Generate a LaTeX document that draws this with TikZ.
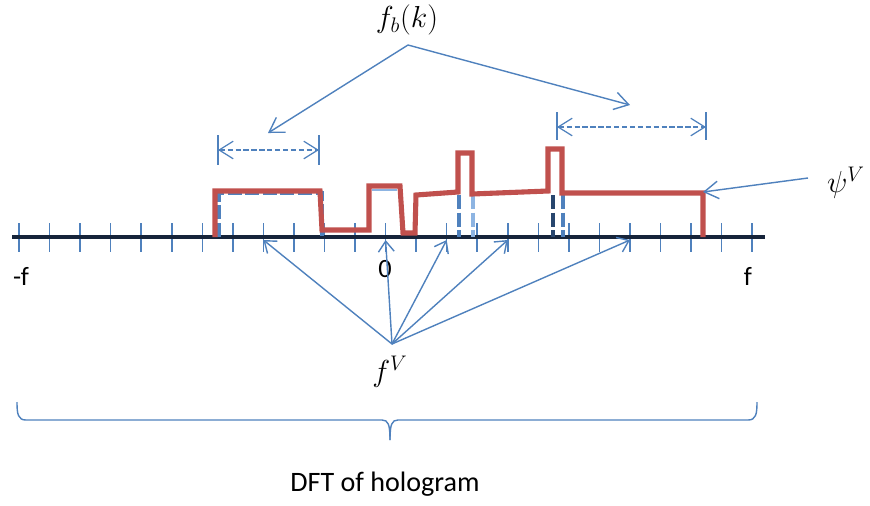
\documentclass[tikz,border=0pt]{standalone}
\usepackage[no-math]{fontspec}
\setmainfont{Carlito}
\usepackage{amsmath}
\usetikzlibrary{arrows.meta, positioning}
\definecolor{lineblue}{RGB}{79,129,189}
\definecolor{paleblue}{RGB}{141,180,226}
\definecolor{deepblue}{RGB}{40,70,110}
\definecolor{curvered}{RGB}{192,80,77}
\definecolor{axisnavy}{RGB}{22,36,58}

\begin{document}
\begin{tikzpicture}[
    x=0.02cm, y=-0.02cm,
    pointer/.style={-{Straight Barb[length=8pt, width=10pt]}, draw=lineblue, line width=0.8pt},
    smallpointer/.style={-{Straight Barb[length=6pt, width=9pt]}, draw=lineblue, line width=0.8pt},
    span/.style={{Straight Barb[length=8pt, width=10pt]}-{Straight Barb[length=8pt, width=10pt]}, draw=lineblue, line width=0.7pt, dash pattern=on 3pt off 1.5pt},
    tick/.style={draw=lineblue, line width=0.9pt},
    bluedash/.style={line width=2.4pt, dash pattern=on 8pt off 2pt},
    mathlabel/.style={font=\fontsize{18}{22}\selectfont},
    axislabel/.style={font=\fontsize{15}{18}\selectfont},
    textlabel/.style={font=\fontsize{16}{19}\selectfont}
]
\useasboundingbox (0,0) rectangle (870,505);

% ticks and axis
\foreach \i in {0,...,24} {
  \draw[tick] ({19+30.55*\i},223) -- ({19+30.55*\i},252);
  \coordinate (t\i) at ({19+30.55*\i},240);
}
\coordinate (axl) at (12,237);
\coordinate (axr) at (765,237);
\draw[axisnavy, line width=2.3pt] (axl) -- (axr);

\node[axislabel] (mf) at (21,276) {-f};
\node[axislabel] (zero) at (385,269) {0};
\node[axislabel] (pf) at (748,276) {f};

% blue components under the red curve
\draw[lineblue, bluedash] (219,237) -- (219,193) -- (322,193) -- (322,237);
\draw[paleblue, line width=1.5pt] (372,190) -- (397,190);
\draw[lineblue, bluedash] (459,195) -- (459,237);
\draw[paleblue, bluedash] (473,195) -- (473,237);
\draw[deepblue, bluedash] (553,195) -- (553,237);
\draw[lineblue, bluedash] (563,195) -- (563,237);

% red curve
\draw[curvered, line width=2.9pt] (215,237) -- (215,191) -- (320,191) -- (322,230)
  -- (369,230) -- (369,186) -- (400,186) -- (403,233) -- (415,233) -- (416,195)
  -- (458,192) -- (458,153) -- (472,153) -- (472,194) -- (548,191) -- (548,149)
  -- (562,149) -- (562,193) -- (703,193) -- (703,237);

% widths of the bands
\draw[tick] (218,135) -- (218,165);
\draw[tick] (319,135) -- (319,165);
\coordinate (bl1) at (218,150);
\coordinate (bl2) at (319,150);
\draw[span] (bl1) -- (bl2);
\draw[tick] (557,112) -- (557,140);
\draw[tick] (706,112) -- (706,140);
\coordinate (br1) at (557,127);
\coordinate (br2) at (706,127);
\draw[span] (br1) -- (br2);

% f_b(k)
\node[mathlabel] (fb) at (407,20) {$f_b(k)$};
\coordinate (fbfoot) at (408,45);
\coordinate (fbl) at (268,133);
\coordinate (fbr) at (630,105);
\draw[pointer] (fbfoot) -- (fbl);
\draw[pointer] (fbfoot) -- (fbr);

% psi^V
\node[mathlabel] (psi) at (846,183) {$\psi^V$};
\coordinate (psifoot) at (808,178);
\coordinate (psitip) at (703,192);
\draw[pointer] (psifoot) -- (psitip);

% f^V
\node[mathlabel] (fv) at (390,372) {$f^V$};
\coordinate (fvfoot) at (392,344);
\foreach \k in {8,12,14,16,20}
  \draw[smallpointer] (fvfoot) -- (t\k);

% brace
\coordinate (bracetip) at (390,440);
\draw[lineblue, line width=0.8pt] (17,402) .. controls (17,414) and (18,420) .. (26,420)
  -- (382,420) .. controls (388,420) and (390,424) .. (bracetip);
\draw[lineblue, line width=0.8pt] (757,402) .. controls (757,414) and (756,420) .. (748,420)
  -- (398,420) .. controls (392,420) and (390,424) .. (bracetip);

\node[textlabel] (dft) at (385,484) {DFT of hologram};
\end{tikzpicture}
\end{document}
